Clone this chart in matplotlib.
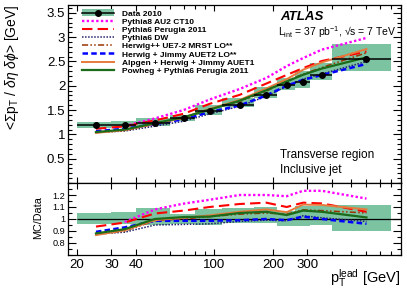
import numpy as np
import matplotlib
matplotlib.use('Agg')
import matplotlib.pyplot as plt
from matplotlib.patches import Patch
from matplotlib.lines import Line2D
from matplotlib.ticker import FixedLocator, MultipleLocator, FuncFormatter, NullFormatter

plt.rcParams['font.family'] = ['Liberation Sans', 'DejaVu Sans']
plt.rcParams['mathtext.fontset'] = 'custom'
plt.rcParams['mathtext.rm'] = 'Liberation Sans'
plt.rcParams['mathtext.it'] = 'Liberation Sans:italic'
plt.rcParams['mathtext.bf'] = 'Liberation Sans:bold'

# ---- data ----
bin_lo = np.array([20, 30, 40, 60, 80, 110, 160, 210, 260, 310, 400])
bin_hi = np.array([30, 40, 60, 80, 110, 160, 210, 260, 310, 400, 800])
pt_center = np.array([25, 35, 50, 70, 95, 135, 185, 235, 285, 355, 600])
data = np.array([1.19, 1.20, 1.23, 1.33, 1.48, 1.61, 1.80, 2.02, 2.08, 2.22, 2.55])
# relative uncertainty band (MC/Data panel)
err_lo = np.array([0.956, 0.955, 0.95, 0.955, 0.95, 0.965, 0.97, 0.945, 0.94, 0.953, 0.90])
err_hi = np.array([1.046, 1.057, 1.093, 1.045, 1.08, 1.09, 1.10, 1.07, 1.11, 1.11, 1.117])

# MC/Data ratios
r_py8 = np.array([np.nan, 0.975, 1.08, 1.128, 1.16, 1.20, 1.20, 1.19, 1.235, 1.235, 1.17])
r_per = np.array([0.937, 0.97, 1.046, 1.07, 1.10, 1.125, 1.136, 1.10, 1.136, 1.13, 1.06])
r_dw = np.array([0.875, 0.89, 0.95, 0.955, 0.96, 0.98, 0.99, 0.985, 1.027, 1.01, 0.98])
r_hpp = np.array([0.87, 0.90, 0.985, 1.0, 1.02, 1.04, 1.05, 1.04, 1.076, 1.07, 1.05])
r_hj = np.array([0.893, 0.93, 0.985, 0.985, 0.985, 0.99, 1.0, 0.99, 1.02, 1.0, 0.96])
r_alp = np.array([0.866, 0.905, 0.99, 1.01, 1.03, 1.06, 1.08, 1.057, 1.12, 1.117, 1.08])
r_pow = np.array([0.88, 0.915, 1.0, 1.016, 1.02, 1.05, 1.06, 1.033, 1.07, 1.06, 1.013])

band = '#7cc3a2'
mc = [
    ('Pythia8 AU2 CT10', r_py8, '#ff00ff', (0, (1, 1)), 1.7),
    ('Pythia6 Perugia 2011', r_per, '#ff0000', (0, (5, 2.5)), 1.5),
    ('Pythia6 DW', r_dw, '#22226b', (0, (1, 1)), 1.1),
    ('Herwig++ UE7-2 MRST LO**', r_hpp, '#993300', (0, (4, 1.5, 1, 1.5, 1, 1.5)), 1.1),
    ('Herwig + Jimmy AUET2 LO**', r_hj, '#0000ff', (0, (2.2, 1.3)), 1.8),
    ('Alpgen + Herwig + Jimmy AUET1', r_alp, '#e67a3c', '-', 1.4),
    ('Powheg + Pythia6 Perugia 2011', r_pow, '#1a6b1a', '-', 1.6),
]

# ---- figure ----
W, H = 407, 292
fig = plt.figure(figsize=(W / 100, H / 100), dpi=100)
ax = fig.add_axes([68 / W, 1 - 183 / H, 333 / W, 178 / H])
axr = fig.add_axes([68 / W, 1 - 255 / H, 333 / W, 72 / H], sharex=ax)

# main panel
ax.bar(bin_lo, data * (err_hi - err_lo), width=bin_hi - bin_lo, bottom=data * err_lo,
       align='edge', color=band, lw=0, zorder=1)
for name, r, col, ls, lw in mc:
    ax.plot(pt_center, r * data, color=col, ls=ls, lw=lw, zorder=3)
ax.errorbar(pt_center, data, xerr=[pt_center - bin_lo, bin_hi - pt_center], fmt='o',
            color='k', ms=4.0, elinewidth=1.1, capsize=0, zorder=5)

# ratio panel
axr.bar(bin_lo, err_hi - err_lo, width=bin_hi - bin_lo, bottom=err_lo,
        align='edge', color=band, lw=0, zorder=1)
axr.hlines(1.0, 20, 900, color='k', lw=0.9, zorder=2)
for name, r, col, ls, lw in mc:
    axr.plot(pt_center, r, color=col, ls=ls, lw=lw, zorder=3)

# axes
ax.set_xscale('log')
ax.set_xlim(18, 900)
ax.set_ylim(0, 3.66)
axr.set_ylim(0.7, 1.3)

ax.xaxis.set_major_locator(FixedLocator([20, 30, 40, 100, 200, 300]))
ax.xaxis.set_minor_locator(FixedLocator([50, 60, 70, 80, 90, 400, 500, 600, 700, 800, 900]))
ax.xaxis.set_major_formatter(FuncFormatter(lambda v, p: f'{v:g}'))
ax.xaxis.set_minor_formatter(NullFormatter())
ax.yaxis.set_major_locator(FixedLocator([0.5, 1, 1.5, 2, 2.5, 3, 3.5]))
ax.yaxis.set_minor_locator(MultipleLocator(0.1))
ax.yaxis.set_major_formatter(FuncFormatter(lambda v, p: f'{v:g}'))
axr.yaxis.set_major_locator(FixedLocator([0.8, 0.9, 1.0, 1.1, 1.2]))
axr.yaxis.set_minor_locator(MultipleLocator(0.05))
axr.yaxis.set_major_formatter(FuncFormatter(lambda v, p: f'{v:g}'))

for a in (ax, axr):
    a.tick_params(which='both', direction='in', top=True, right=True, width=0.8)
    a.tick_params(axis='x', which='major', length=4)
    a.tick_params(axis='x', which='minor', length=3)
    a.tick_params(axis='y', which='major', length=5.5)
    a.tick_params(axis='y', which='minor', length=3)
    for s in a.spines.values():
        s.set_linewidth(0.9)
ax.tick_params(labelbottom=False, labelsize=9.5, pad=2)
axr.tick_params(axis='y', labelsize=6.6, pad=2)
axr.tick_params(axis='x', labelsize=9.5, pad=3)

# labels
fig.text(12 / W, 1 - 5 / H, r'<$\Sigma$p$_{\rm T}$ / $\delta\eta$ $\delta\phi$> [GeV]',
         rotation=90, ha='center', va='top', fontsize=10)
fig.text(38 / W, 1 - 218 / H, 'MC/Data', rotation=90, ha='center', va='center', fontsize=7.8)
fig.text(400 / W, 1 - 283 / H, r'p$_{\rm T}^{\rm lead}$ [GeV]', ha='right', va='baseline',
         fontsize=10.5)

fig.text(280 / W, 1 - 17 / H, 'ATLAS', fontsize=9.5, weight='bold', style='italic', va='center')
fig.text(278 / W, 1 - 32 / H, r'L$_{\rm int}$ = 37 pb$^{-1}$, √s = 7 TeV', fontsize=7.5, va='center')
fig.text(280 / W, 1 - 155 / H, 'Transverse region', fontsize=8.5, va='center')
fig.text(280 / W, 1 - 170 / H, 'Inclusive jet', fontsize=8.5, va='center')

# legend
handles = [(Patch(facecolor=band, lw=0),
            Line2D([], [], color='k', marker='o', ms=4.0, lw=1.1))]
labels = ['Data 2010']
for name, r, col, ls, lw in mc:
    handles.append(Line2D([], [], color=col, ls=ls, lw=lw))
    labels.append(name)
ax.legend(handles, labels, loc='upper left', bbox_to_anchor=(0.042, 0.975), frameon=False,
          prop={'size': 6.0, 'weight': 'bold'}, handlelength=3.8, handletextpad=1.0,
          labelspacing=-0.02, borderpad=0, borderaxespad=0, handleheight=0.9)

fig.savefig('out.png', dpi=100)
